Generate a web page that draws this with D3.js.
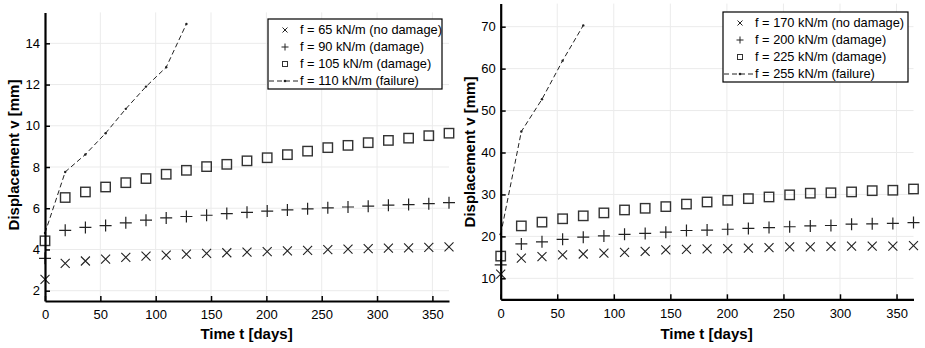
<!DOCTYPE html>
<html>
<head>
<meta charset="utf-8">
<script src="https://cdn.jsdelivr.net/npm/d3@7"></script>
<style>
  body { margin: 0; background: #fff; }
  svg { font-family: Arial, "Liberation Sans", sans-serif; }
</style>
</head>
<body>
<div id="chart"></div>
<script>
// time axis (days), same for both panels
var days = [0, 18.25, 36.5, 54.75, 73, 91.25, 109.5, 127.75, 146, 164.25, 182.5,
            200.75, 219, 237.25, 255.5, 273.75, 292, 310.25, 328.5, 346.75, 365];
var xTicks = [0, 50, 100, 150, 200, 250, 300, 350];

// left panel
var leftLabels = ["f = 65 kN/m (no damage)", "f = 90 kN/m (damage)", "f = 105 kN/m (damage)", "f = 110 kN/m (failure)"];
var left65  = [2.55, 3.33, 3.44, 3.53, 3.62, 3.68, 3.73, 3.77, 3.81, 3.84, 3.87, 3.9, 3.93, 3.96, 3.99, 4.02, 4.04, 4.06, 4.08, 4.1, 4.13];
var left90  = [3.57, 4.93, 5.07, 5.16, 5.29, 5.42, 5.53, 5.6, 5.66, 5.74, 5.8, 5.86, 5.92, 5.97, 6.02, 6.06, 6.1, 6.15, 6.18, 6.22, 6.27];
var left105 = [4.42, 6.52, 6.79, 7.03, 7.24, 7.44, 7.65, 7.84, 8.02, 8.13, 8.3, 8.45, 8.6, 8.77, 8.94, 9.05, 9.18, 9.29, 9.4, 9.52, 9.64];
var left110 = [4.8, 7.76, 8.61, 9.64, 10.82, 11.9, 12.84, 14.94];
var leftYTicks = [2, 4, 6, 8, 10, 12, 14];

// right panel
var rightLabels = ["f = 170 kN/m (no damage)", "f = 200 kN/m (damage)", "f = 225 kN/m (damage)", "f = 255 kN/m (failure)"];
var right170 = [11.0, 14.8, 15.2, 15.6, 15.8, 16.0, 16.2, 16.4, 16.8, 16.9, 17.0, 17.1, 17.2, 17.3, 17.5, 17.5, 17.6, 17.7, 17.7, 17.7, 17.8];
var right200 = [13.2, 18.2, 18.7, 19.3, 19.8, 20.1, 20.5, 20.7, 21.0, 21.4, 21.5, 21.7, 21.9, 22.1, 22.3, 22.5, 22.6, 22.9, 23.0, 23.1, 23.3];
var right225 = [15.3, 22.5, 23.4, 24.2, 24.9, 25.6, 26.3, 26.7, 27.1, 27.7, 28.2, 28.6, 29.0, 29.4, 29.9, 30.3, 30.4, 30.6, 30.9, 31.0, 31.3];
var right255 = [20.5, 45.0, 52.7, 61.9, 70.3];
var rightYTicks = [10, 20, 30, 40, 50, 60, 70];

var svg = d3.select("#chart")
  .append("svg")
    .attr("width", 925)
    .attr("height", 348);

function drawPanel(p) {
  var x = d3.scaleLinear().domain([0, 365]).range(p.xRange);
  var y = d3.scaleLinear().domain(p.yDomain).range(p.yRange);
  var g = svg.append("g");

  // grid
  g.append("g").selectAll("line").data(xTicks.slice(1)).enter().append("line")
    .attr("x1", function(d) { return x(d); }).attr("x2", function(d) { return x(d); })
    .attr("y1", p.yRange[0]).attr("y2", p.yRange[1])
    .attr("stroke", "#ebebeb").attr("stroke-width", 1);
  g.append("g").selectAll("line").data(p.yTicks).enter().append("line")
    .attr("y1", function(d) { return y(d); }).attr("y2", function(d) { return y(d); })
    .attr("x1", p.xRange[0]).attr("x2", p.xRange[1])
    .attr("stroke", "#ebebeb").attr("stroke-width", 1);

  // failure curve
  var fail = p.series[3].map(function(v, i) { return [days[i], v]; });
  g.append("path")
    .datum(fail)
    .attr("fill", "none")
    .attr("stroke", "#222")
    .attr("stroke-width", 1)
    .attr("stroke-dasharray", "5,3")
    .attr("d", d3.line().x(function(d) { return x(d[0]); }).y(function(d) { return y(d[1]); }));
  g.append("g").selectAll("circle").data(fail).enter().append("circle")
    .attr("cx", function(d) { return x(d[0]); })
    .attr("cy", function(d) { return y(d[1]); })
    .attr("r", 1.2)
    .attr("fill", "#222");

  // x markers
  g.append("g").selectAll("path").data(p.series[0]).enter().append("path")
    .attr("transform", function(d, i) { return "translate(" + x(days[i]) + "," + y(d) + ")"; })
    .attr("d", "M-4.5,-4.5L4.5,4.5M-4.5,4.5L4.5,-4.5")
    .attr("stroke", "#222").attr("stroke-width", 1.1).attr("fill", "none");

  // + markers
  g.append("g").selectAll("path").data(p.series[1]).enter().append("path")
    .attr("transform", function(d, i) { return "translate(" + x(days[i]) + "," + y(d) + ")"; })
    .attr("d", "M-6,0L6,0M0,-6L0,6")
    .attr("stroke", "#222").attr("stroke-width", 1.2).attr("fill", "none");

  // square markers
  g.append("g").selectAll("rect").data(p.series[2]).enter().append("rect")
    .attr("x", function(d, i) { return x(days[i]) - 4.7; })
    .attr("y", function(d) { return y(d) - 4.7; })
    .attr("width", 9.4).attr("height", 9.4)
    .attr("stroke", "#333").attr("stroke-width", 1.4).attr("fill", "none");

  // axes
  var xAxis = g.append("g")
    .attr("transform", "translate(0," + p.yRange[0] + ")")
    .call(d3.axisBottom(x).tickValues(xTicks).tickSizeInner(-5).tickSizeOuter(0).tickPadding(p.xPad));
  var yAxis = g.append("g")
    .attr("transform", "translate(" + p.xRange[0] + ",0)")
    .call(d3.axisLeft(y).tickValues(p.yTicks).tickSizeInner(-5).tickSizeOuter(0).tickPadding(5));
  [xAxis, yAxis].forEach(function(a) {
    a.select(".domain").attr("stroke", "#000").attr("stroke-width", 2.2);
    a.selectAll(".tick line").attr("stroke", "#000").attr("stroke-width", 1.5);
    a.selectAll(".tick text").attr("font-size", 13).attr("fill", "#000")
      .attr("font-family", "Arial, 'Liberation Sans', sans-serif");
  });

  // titles
  g.append("text")
    .attr("x", p.xTitleX).attr("y", 339)
    .attr("text-anchor", "middle")
    .attr("font-size", 15).attr("font-weight", "bold")
    .text("Time t [days]");
  g.append("text")
    .attr("transform", "translate(" + p.yTitleX + "," + p.yTitleY + ") rotate(-90)")
    .attr("text-anchor", "middle")
    .attr("font-size", 15).attr("font-weight", "bold")
    .text("Displacement v [mm]");

  // legend
  var lg = g.append("g").attr("transform", "translate(" + p.legend[0] + "," + p.legend[1] + ")");
  lg.append("rect")
    .attr("width", p.legend[2]).attr("height", 70)
    .attr("fill", "#fff").attr("stroke", "#000").attr("stroke-width", 1.2);
  p.labels.forEach(function(lab, i) {
    var ly = 11 + i * 17;
    lg.append("text")
      .attr("x", 32).attr("y", ly).attr("dy", "0.35em")
      .attr("font-size", 12.8)
      .text(lab);
    var m = lg.append("g").attr("transform", "translate(17," + ly + ")");
    if (i === 0) {
      m.append("path").attr("d", "M-2.5,-2.5L2.5,2.5M-2.5,2.5L2.5,-2.5").attr("stroke", "#222").attr("stroke-width", 1);
    } else if (i === 1) {
      m.append("path").attr("d", "M-3.5,0L3.5,0M0,-3.5L0,3.5").attr("stroke", "#222").attr("stroke-width", 1);
    } else if (i === 2) {
      m.append("rect").attr("x", -2.5).attr("y", -2.5).attr("width", 5).attr("height", 5)
        .attr("fill", "none").attr("stroke", "#333").attr("stroke-width", 1);
    } else {
      m.append("line").attr("x1", -16).attr("x2", 13).attr("stroke", "#222")
        .attr("stroke-width", 1).attr("stroke-dasharray", "5,3");
      m.append("circle").attr("r", 1.3).attr("fill", "#222");
    }
  });
}

drawPanel({
  xRange: [45, 449], yDomain: [1.5, 15.5], yRange: [301, 12.4],
  yTicks: leftYTicks, series: [left65, left90, left105, left110],
  labels: leftLabels, legend: [268, 19, 174], xPad: 9,
  xTitleX: 246.5, yTitleX: 19, yTitleY: 155
});
drawPanel({
  xRange: [500.7, 913.5], yDomain: [5, 75.5], yRange: [299.3, 3.6],
  yTicks: rightYTicks, series: [right170, right200, right225, right255],
  labels: rightLabels, legend: [723, 12, 185], xPad: 9,
  xTitleX: 706.5, yTitleX: 475, yTitleY: 152
});
</script>
</body>
</html>
